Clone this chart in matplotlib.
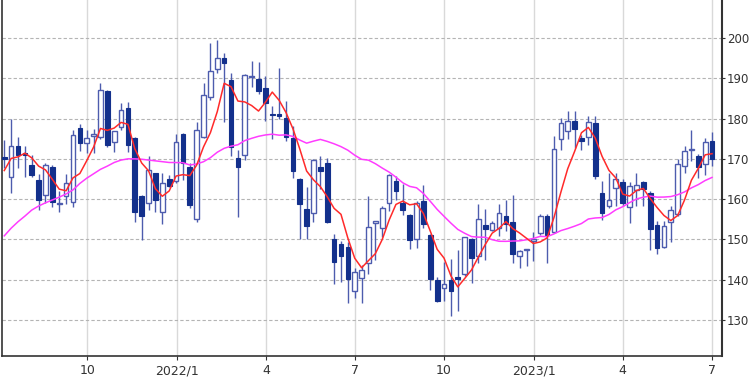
import matplotlib
matplotlib.use("Agg")
import matplotlib.pyplot as plt
import numpy as np
import pandas as pd

# ---- data (weekly candles) ----
opens = [170.3, 165.6, 173.2, 171.2, 168.5, 164.8, 161.0, 168.1, 158.7, 160.8,
         159.3, 177.7, 173.9, 175.7, 175.5, 186.8, 174.3, 178.0, 182.5, 175.1,
         160.8, 159.0, 166.4, 156.7, 164.9, 164.4, 176.2, 168.1, 155.0, 175.5,
         185.3, 192.2, 195.0, 189.5, 170.1, 171.0, 190.2, 189.8, 187.5, 181.0,
         181.2, 180.1, 175.2, 165.1, 157.5, 156.5, 168.1, 169.0, 150.0, 148.8,
         148.2, 137.2, 140.5, 144.1, 154.2, 152.9, 159.1, 164.4, 159.0, 156.1,
         150.0, 159.6, 151.2, 140.0, 138.0, 140.0, 140.6, 141.4, 150.0, 146.0,
         153.5, 152.3, 152.9, 155.9, 154.3, 146.0, 147.4, 149.6, 151.5, 155.8,
         151.8, 174.8, 176.9, 179.3, 175.2, 175.5, 178.8, 161.6, 158.4, 162.8,
         164.2, 158.0, 162.2, 164.2, 161.6, 153.7, 148.2, 154.3, 156.4, 168.2,
         172.1, 170.8, 168.6, 174.4]
highs = [174.7, 179.8, 175.4, 173.3, 171.0, 166.2, 168.9, 168.5, 162.0, 166.2,
         177.2, 178.6, 177.1, 177.5, 188.9, 187.0, 177.0, 183.8, 184.0, 175.3,
         161.0, 170.6, 166.5, 166.4, 166.0, 176.2, 176.5, 168.9, 179.2, 188.8,
         198.8, 199.5, 196.2, 191.2, 172.2, 191.0, 194.2, 194.0, 190.5, 183.0,
         192.5, 184.3, 178.1, 165.2, 163.0, 169.9, 170.7, 170.1, 151.3, 149.6,
         149.4, 143.0, 143.6, 160.8, 154.6, 158.2, 166.2, 165.8, 163.7, 156.4,
         159.5, 163.5, 151.3, 140.8, 144.5, 145.1, 147.3, 150.7, 150.3, 158.9,
         157.6, 154.5, 158.7, 159.7, 161.1, 147.3, 147.7, 151.8, 156.2, 156.2,
         175.6, 180.2, 181.8, 181.8, 175.8, 180.7, 180.7, 164.5, 166.5, 166.5,
         165.0, 164.2, 166.4, 164.5, 162.0, 154.5, 154.5, 158.2, 170.0, 173.1,
         177.1, 171.1, 175.2, 176.6]
lows = [167.8, 161.5, 167.7, 165.6, 165.5, 157.3, 159.0, 158.0, 156.7, 158.8,
        158.1, 172.0, 171.5, 171.4, 175.0, 173.0, 171.8, 177.2, 171.8, 154.4,
        149.9, 157.3, 156.9, 153.8, 163.0, 163.9, 164.8, 157.7, 154.4, 175.1,
        184.6, 191.2, 179.2, 170.6, 155.7, 169.7, 187.9, 186.1, 179.3, 175.0,
        180.0, 174.4, 165.3, 150.0, 150.0, 154.4, 162.5, 154.1, 138.9, 139.5,
        134.3, 135.6, 134.3, 141.4, 145.0, 150.5, 157.0, 159.9, 156.1, 147.7,
        147.9, 152.8, 137.5, 134.6, 134.8, 130.9, 132.3, 140.9, 139.2, 144.2,
        145.0, 152.0, 150.8, 152.0, 144.2, 142.9, 143.5, 144.6, 151.2, 144.2,
        151.6, 172.3, 174.8, 172.7, 172.1, 173.5, 165.0, 154.9, 157.8, 158.2,
        158.2, 154.1, 158.2, 158.2, 147.5, 146.3, 148.0, 149.3, 155.8, 166.5,
        169.4, 165.3, 166.1, 168.2]
closes = [170.0, 173.2, 171.0, 171.0, 166.0, 159.8, 168.5, 159.2, 158.9, 164.0,
          175.8, 173.9, 175.1, 175.8, 187.1, 173.4, 176.8, 182.1, 173.4, 156.7,
          155.8, 167.2, 159.8, 164.1, 163.3, 174.3, 168.9, 158.6, 177.2, 185.9,
          191.9, 195.0, 193.7, 173.0, 168.1, 190.8, 190.5, 186.9, 183.8, 180.8,
          180.6, 175.4, 166.9, 158.7, 153.3, 169.7, 166.9, 154.4, 144.3, 145.9,
          140.3, 141.9, 142.5, 153.2, 154.5, 157.8, 165.9, 162.1, 157.3, 149.9,
          159.1, 153.8, 140.2, 134.8, 139.0, 137.1, 140.1, 150.6, 145.5, 155.0,
          152.6, 154.1, 156.6, 153.9, 146.3, 147.1, 147.6, 150.1, 155.9, 151.2,
          172.5, 178.9, 179.3, 177.3, 174.4, 179.1, 165.7, 156.6, 159.9, 165.0,
          159.1, 163.2, 163.6, 162.4, 152.6, 147.9, 153.3, 157.3, 168.6, 171.9,
          172.4, 168.0, 174.1, 170.0]

ma_short_window = 5
ma_long_window = 26
ma_short_lead = [167.1, 170.1, 170.5, 171.4]
ma_long_lead = [150.9, 152.8, 154.4, 155.8, 157.3, 158.3, 159.1, 159.8, 160.5,
                161.3, 162.3, 163.9, 165.2, 166.3, 167.4, 168.2, 169.1, 169.7,
                170.0, 170.0, 169.9, 169.7, 169.5, 169.3, 169.1]

tick_positions = [12.1, 25.1, 38.1, 51.1, 64.0, 77.1, 90.0, 103.0]
tick_labels = ["10", "2022/1", "4", "7", "10", "2023/1", "4", "7"]
y_ticks = [130, 140, 150, 160, 170, 180, 190, 200]

# ---- derived ----
o = np.array(opens); h = np.array(highs); l = np.array(lows); c = np.array(closes)
x = np.arange(len(c))
cs = pd.Series(c)
ma_s = cs.rolling(ma_short_window).mean().to_numpy()
ma_s[:len(ma_short_lead)] = ma_short_lead
ma_l = cs.rolling(ma_long_window).mean().to_numpy()
ma_l[:len(ma_long_lead)] = ma_long_lead

# ---- figure ----
fig = plt.figure(figsize=(7.5, 3.79), dpi=100)
ax = fig.add_axes([2/750, 23/379, 720/750, 356/379])

wick_col = "#4d5cae"
fill_col = "#13308c"

ax.set_xlim(-0.33, 104.45)
ax.set_ylim(121.1, 209.4)

# grid
for t in tick_positions:
    ax.axvline(t, color="#d9d9d9", lw=1.0, zorder=0)
for v in y_ticks:
    ax.axhline(v, color="#b4b4b4", lw=0.8, ls=(0, (3, 2)), zorder=0)

# wicks
ax.vlines(x, l, h, color=wick_col, lw=1.0, zorder=2)

up = c >= o
bottoms = np.minimum(o, c)
heights = np.maximum(np.abs(c - o), 0.35)
w = 0.68
ax.bar(x[up], heights[up], bottom=bottoms[up], width=w, facecolor="white",
       edgecolor=wick_col, linewidth=1.0, zorder=3)
ax.bar(x[~up], heights[~up], bottom=bottoms[~up], width=w, facecolor=fill_col,
       edgecolor=fill_col, linewidth=0.8, zorder=3)

ax.plot(x, ma_l, color="#ff3cff", lw=1.1, zorder=4)
ax.plot(x, ma_s, color="#ff2a2a", lw=1.1, zorder=5)

# axes styling
ax.yaxis.tick_right()
ax.set_yticks(y_ticks)
ax.set_xticks(tick_positions)
ax.set_xticklabels(tick_labels)
ax.tick_params(axis="x", labelsize=9, colors="#333333", length=3, width=0.8, pad=3)
ax.tick_params(axis="y", labelsize=8.5, colors="#333333", length=2, width=0.8, pad=1.5)
ax.spines["top"].set_visible(False)
ax.spines["left"].set_color("#333333")
ax.spines["bottom"].set_color("#333333")
ax.spines["right"].set_color("#333333")
ax.spines["right"].set_linewidth(1.5)
ax.spines["bottom"].set_linewidth(1.2)
ax.spines["left"].set_linewidth(1.2)

fig.savefig("out.png", dpi=100)
